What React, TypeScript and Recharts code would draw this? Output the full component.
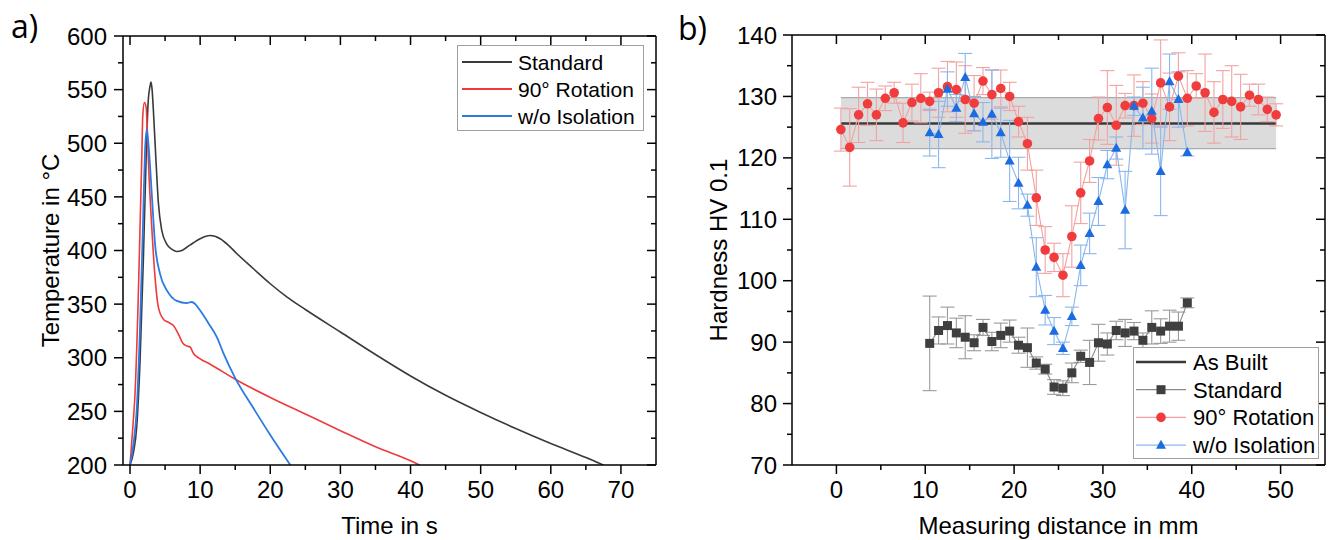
import React from 'react';
import { ComposedChart, Line, XAxis, YAxis, ErrorBar, ReferenceArea, ReferenceLine, Legend } from 'recharts';

const FONT = "Arial, 'Liberation Sans', Helvetica, sans-serif";

// ---------- Panel a: temperature curves ----------
const stdTime = [0, 0.5, 0.95, 1.43, 1.9, 2.29, 2.6, 2.85, 3.0, 3.15, 3.33, 3.7, 4.05, 4.52, 5.24, 6.0, 6.67, 7.4, 8.1, 9.0, 10, 11.43, 12.86, 14, 15.24, 17.6, 20, 22.4, 25, 30, 35, 40, 45, 50, 55, 60, 65, 67.5];
const stdTemp = [200, 212, 235, 297, 391, 484, 540, 553, 557, 550, 531, 484, 444, 419, 406, 401, 399, 400, 403, 407, 411, 414, 411, 405, 397, 383, 369, 356.5, 345, 324, 303, 283, 265, 249, 234, 220, 207, 200];

const rotTime = [0, 0.4, 0.71, 1.19, 1.5, 1.67, 1.81, 2.05, 2.29, 2.45, 2.62, 3.1, 3.57, 4.05, 4.76, 5.5, 6.19, 6.9, 7.6, 8.1, 8.57, 9.05, 10, 11.43, 15, 20, 25, 30, 35, 40, 41.3];
const rotTemp = [200, 235, 266, 360, 440, 484, 524, 538, 534, 515, 484, 422, 375, 347, 336, 333, 330, 322, 313, 311, 310, 304, 299, 294, 280, 263, 247.5, 232, 217, 204, 200];

const isoTime = [0, 0.5, 0.95, 1.43, 1.9, 2.14, 2.38, 2.67, 3.1, 3.57, 4.29, 5.24, 6.67, 8.1, 8.8, 9.3, 10, 11.2, 12.4, 13.33, 15, 17.5, 20, 22.86];
const isoTemp = [200, 220, 251, 329, 437, 493, 513, 496, 453, 406, 378, 363, 353, 351, 352, 350, 344, 332, 319, 304, 281, 254, 228, 200];

const aXTicks = [0, 5, 10, 15, 20, 25, 30, 35, 40, 45, 50, 55, 60, 65, 70];
const aYTicks = [200, 225, 250, 275, 300, 325, 350, 375, 400, 425, 450, 475, 500, 525, 550, 575, 600];
const aNames = ['Standard', '90° Rotation', 'w/o Isolation'];
const aColors = ['#3a3a3a', '#f03a3a', '#2b7be3'];

// ---------- Panel b: hardness profiles ----------
const rotDist = [0.5, 1.5, 2.5, 3.5, 4.5, 5.5, 6.5, 7.5, 8.5, 9.5, 10.5, 11.5, 12.5, 13.5, 14.5, 15.5, 16.5, 17.5, 18.5, 19.5, 20.5, 21.5, 22.5, 23.5, 24.5, 25.5, 26.5, 27.5, 28.5, 29.5, 30.5, 31.5, 32.5, 33.5, 34.5, 35.5, 36.5, 37.5, 38.5, 39.5, 40.5, 41.5, 42.5, 43.5, 44.5, 45.5, 46.5, 47.5, 48.5, 49.5];
const rotHV = [124.6, 121.7, 127.0, 128.8, 127.0, 129.7, 130.6, 125.7, 129.0, 129.7, 129.2, 130.6, 131.6, 131.1, 129.5, 128.9, 132.5, 130.3, 131.3, 130.0, 125.9, 122.3, 113.5, 105.0, 103.8, 100.9, 107.2, 114.3, 119.5, 126.4, 128.2, 125.3, 128.5, 128.5, 128.9, 126.4, 132.2, 128.3, 133.3, 129.7, 131.7, 130.6, 127.4, 129.5, 129.2, 128.3, 130.2, 129.5, 127.9, 127.0];
const rotErr = [3.5, 6.3, 4.5, 3.5, 4.2, 2.0, 1.7, 3.2, 3.0, 4.0, 1.5, 4.0, 4.1, 4.5, 5.5, 4.5, 2.2, 4.0, 3.0, 2.3, 2.5, 4.3, 4.5, 3.8, 2.3, 3.5, 5.0, 5.0, 3.5, 3.5, 6.0, 6.5, 2.0, 5.0, 3.5, 4.0, 7.0, 5.5, 3.8, 4.5, 2.0, 6.3, 5.0, 4.7, 5.8, 5.3, 1.8, 2.5, 2.0, 1.8];

const midDist = [10.5, 11.5, 12.5, 13.5, 14.5, 15.5, 16.5, 17.5, 18.5, 19.5, 20.5, 21.5, 22.5, 23.5, 24.5, 25.5, 26.5, 27.5, 28.5, 29.5, 30.5, 31.5, 32.5, 33.5, 34.5, 35.5, 36.5, 37.5, 38.5, 39.5];
const isoHV = [124.1, 123.8, 131.2, 128.1, 133.1, 127.2, 125.8, 127.1, 124.1, 119.5, 115.9, 112.3, 102.2, 95.2, 91.8, 89.0, 94.2, 102.5, 107.7, 112.9, 118.9, 121.6, 111.5, 128.4, 126.5, 127.6, 117.8, 132.4, 129.5, 120.9];
const isoErr = [3.8, 5.4, 2.8, 2.2, 3.9, 2.8, 3.2, 7.2, 4.0, 6.6, 4.2, 1.8, 4.8, 2.4, 2.2, 1.0, 1.5, 3.3, 3.3, 3.9, 2.3, 1.8, 6.3, 1.5, 5.0, 7.0, 7.2, 4.5, 4.5, 0.6];
const stdHV = [89.8, 91.9, 92.7, 91.5, 90.8, 89.9, 92.4, 90.1, 91.1, 91.8, 89.5, 89.1, 86.6, 85.6, 82.7, 82.5, 85.0, 87.7, 86.7, 89.9, 89.7, 91.9, 91.5, 91.8, 90.3, 92.4, 91.8, 92.6, 92.6, 96.4];
const stdErr = [7.7, 2.2, 3.0, 2.4, 3.5, 1.3, 1.3, 1.5, 2.0, 1.8, 1.3, 3.2, 1.0, 0.8, 1.2, 1.2, 1.6, 1.0, 3.6, 3.0, 1.8, 1.5, 2.2, 1.4, 1.2, 2.7, 2.0, 2.6, 2.3, 0.8];

const asBuiltStart = 0.5;
const asBuiltEnd = 49.5;
const asBuiltMean = 125.6;
const asBuiltLow = 121.5;
const asBuiltHigh = 129.8;

const bXTicks = [0, 5, 10, 15, 20, 25, 30, 35, 40, 45, 50];
const bYTicks = [70, 75, 80, 85, 90, 95, 100, 105, 110, 115, 120, 125, 130, 135, 140];
const bNames = ['As Built', 'Standard', '90° Rotation', 'w/o Isolation'];

const C_STD_M = '#3f3f3f', C_STD_L = '#8a8a8a', C_STD_E = '#9a9a9a';
const C_ROT_M = '#f03c3c', C_ROT_L = '#f4a0a0', C_ROT_E = '#f2a2a2';
const C_ISO_M = '#1c6be0', C_ISO_L = '#8ab6ee', C_ISO_E = '#8cb6ee';

const toXY = (xs: number[], ys: number[], es?: number[]) =>
  xs.map((x, i) => ({ x, y: ys[i], e: es ? es[i] : 0 }));

const stdA = toXY(stdTime, stdTemp);
const rotA = toXY(rotTime, rotTemp);
const isoA = toXY(isoTime, isoTemp);
const rotB = toXY(rotDist, rotHV, rotErr);
const isoB = toXY(midDist, isoHV, isoErr);
const stdB = toXY(midDist, stdHV, stdErr);
const asBuiltB = toXY([asBuiltStart, asBuiltEnd], [asBuiltMean, asBuiltMean]);

// ---------- tick renderer (major/minor, in/out) ----------
const makeTick = (side: string, margin: number, major: number, labels: boolean, out: boolean, fs: number) => (props: any) => {
  const { x, y, payload } = props;
  const v = payload.value;
  const isMajor = Math.abs(v / major - Math.round(v / major)) < 1e-6;
  const len = isMajor ? 9 : 5;
  const d = out ? 1 : -1;
  let line: any = null;
  let label: any = null;
  if (side === 'left') {
    const ax = x + margin;
    line = <line x1={ax} y1={y} x2={ax - d * len} y2={y} />;
    if (labels && isMajor) label = <text x={x} y={y} dy="0.36em" textAnchor="end">{v}</text>;
  } else if (side === 'right') {
    const ax = x - margin;
    line = <line x1={ax} y1={y} x2={ax + d * len} y2={y} />;
  } else if (side === 'bottom') {
    const ay = y - margin;
    line = <line x1={x} y1={ay} x2={x} y2={ay + d * len} />;
    if (labels && isMajor) label = <text x={x} y={y} dy="0.72em" textAnchor="middle">{v}</text>;
  } else {
    const ay = y + margin;
    line = <line x1={x} y1={ay} x2={x} y2={ay - d * len} />;
  }
  return (
    <g>
      <g stroke="#000" strokeWidth={1.5}>{line}</g>
      {label && <g fill="#000" stroke="none" fontSize={fs} fontFamily={FONT}>{label}</g>}
    </g>
  );
};

const axisLine = { stroke: '#000', strokeWidth: 1.5 };

// ---------- markers ----------
const Circle = (p: any) => (p.cx == null ? <g /> : <circle cx={p.cx} cy={p.cy} r={4.8} fill={C_ROT_M} />);
const Tri = (p: any) =>
  p.cx == null ? <g /> : (
    <polygon points={`${p.cx},${p.cy - 5.4} ${p.cx - 5},${p.cy + 3.6} ${p.cx + 5},${p.cy + 3.6}`} fill={C_ISO_M} />
  );
const Sq = (p: any) => (p.cx == null ? <g /> : <rect x={p.cx - 4.5} y={p.cy - 4.5} width={9} height={9} fill={C_STD_M} />);

// ---------- legends ----------
const LegendA = () => (
  <svg width={188} height={87} style={{ display: 'block' }}>
    <rect x={0.5} y={0.5} width={186} height={85} fill="#fff" stroke="#a0a0a0" strokeWidth={1} />
    {aNames.map((n, i) => (
      <g key={n}>
        <line x1={5} x2={55} y1={17 + 27 * i} y2={17 + 27 * i} stroke={aColors[i]} strokeWidth={1.8} />
        <text x={61} y={17 + 27 * i} dy="0.36em" fontSize={21} fontFamily={FONT} fill="#000">{n}</text>
      </g>
    ))}
  </svg>
);

const LegendB = () => {
  const rows = [
    { line: '#3a3a3a', lw: 2.5, m: null },
    { line: C_STD_L, lw: 1.2, m: 'sq' },
    { line: C_ROT_L, lw: 1.2, m: 'ci' },
    { line: C_ISO_L, lw: 1.2, m: 'tr' },
  ];
  return (
    <svg width={187} height={113} style={{ display: 'block' }}>
      <rect x={0.5} y={0.5} width={185} height={111} fill="#fff" stroke="#a0a0a0" strokeWidth={1} />
      {bNames.map((n, i) => {
        const yy = 15 + 27.7 * i;
        const r = rows[i];
        return (
          <g key={n}>
            <line x1={3} x2={53} y1={yy} y2={yy} stroke={r.line} strokeWidth={r.lw} />
            {r.m === 'sq' && <Sq cx={28} cy={yy} />}
            {r.m === 'ci' && <Circle cx={28} cy={yy} />}
            {r.m === 'tr' && <Tri cx={28} cy={yy} />}
            <text x={60} y={yy} dy="0.36em" fontSize={22} fontFamily={FONT} fill="#000">{n}</text>
          </g>
        );
      })}
    </svg>
  );
};

const ChartA = () => (
  <ComposedChart width={660} height={540} margin={{ top: 35, right: 0, bottom: 0, left: 0 }}>
    <XAxis xAxisId="b" dataKey="x" type="number" domain={[-1, 75]} ticks={aXTicks} interval={0} allowDataOverflow
      height={75} axisLine={axisLine} tickLine={false} tickSize={0} tickMargin={16}
      tick={makeTick('bottom', 16, 10, true, true, 24)}
      label={{ value: 'Time in s', position: 'insideBottom', offset: 6, style: { fontSize: 24, fill: '#000', fontFamily: FONT } }} />
    <XAxis xAxisId="t" dataKey="x" type="number" orientation="top" domain={[-1, 75]} ticks={aXTicks} interval={0} allowDataOverflow
      height={1} axisLine={axisLine} tickLine={false} tickSize={0} tickMargin={4}
      tick={makeTick('top', 4, 10, false, false, 24)} />
    <YAxis yAxisId="l" type="number" domain={[200, 600]} ticks={aYTicks} interval={0} allowDataOverflow
      width={123} axisLine={axisLine} tickLine={false} tickSize={0} tickMargin={16}
      tick={makeTick('left', 16, 50, true, true, 24)}
      label={{ value: 'Temperature in °C', angle: -90, position: 'insideLeft', offset: 50, style: { fontSize: 24, fill: '#000', fontFamily: FONT, textAnchor: 'middle' } }} />
    <YAxis yAxisId="r" type="number" orientation="right" domain={[200, 600]} ticks={aYTicks} interval={0} allowDataOverflow
      width={4} axisLine={axisLine} tickLine={false} tickSize={0} tickMargin={4}
      tick={makeTick('right', 4, 50, false, false, 24)} />
    <Line data={stdA} dataKey="y" xAxisId="b" yAxisId="l" type="monotone" stroke={aColors[0]} strokeWidth={1.6} dot={false} isAnimationActive={false} name={aNames[0]} />
    <Line data={rotA} dataKey="y" xAxisId="b" yAxisId="l" type="monotone" stroke={aColors[1]} strokeWidth={1.6} dot={false} isAnimationActive={false} name={aNames[1]} />
    <Line data={isoA} dataKey="y" xAxisId="b" yAxisId="l" type="monotone" stroke={aColors[2]} strokeWidth={1.8} dot={false} isAnimationActive={false} name={aNames[2]} />
    <Legend layout="vertical" align="center" verticalAlign="middle" content={<LegendA />}
      wrapperStyle={{ left: 457, top: 45, width: 188, height: 87 }} />
  </ComposedChart>
);

const ChartB = () => (
  <ComposedChart width={668} height={540} margin={{ top: 34, right: 0, bottom: 0, left: 0 }}>
    <XAxis xAxisId="b" dataKey="x" type="number" domain={[-5, 55]} ticks={bXTicks} interval={0} allowDataOverflow
      height={75} axisLine={axisLine} tickLine={false} tickSize={0} tickMargin={16}
      tick={makeTick('bottom', 16, 10, true, true, 24)}
      label={{ value: 'Measuring distance in mm', position: 'insideBottom', offset: 6, style: { fontSize: 24, fill: '#000', fontFamily: FONT } }} />
    <XAxis xAxisId="t" dataKey="x" type="number" orientation="top" domain={[-5, 55]} ticks={bXTicks} interval={0} allowDataOverflow
      height={1} axisLine={axisLine} tickLine={false} tickSize={0} tickMargin={4}
      tick={makeTick('top', 4, 10, false, false, 24)} />
    <YAxis yAxisId="l" type="number" domain={[70, 140]} ticks={bYTicks} interval={0} allowDataOverflow
      width={132} axisLine={axisLine} tickLine={false} tickSize={0} tickMargin={15}
      tick={makeTick('left', 15, 10, true, true, 24)}
      label={{ value: 'Hardness HV 0.1', angle: -90, position: 'insideLeft', offset: 58, style: { fontSize: 24, fill: '#000', fontFamily: FONT, textAnchor: 'middle' } }} />
    <YAxis yAxisId="r" type="number" orientation="right" domain={[70, 140]} ticks={bYTicks} interval={0} allowDataOverflow
      width={3} axisLine={axisLine} tickLine={false} tickSize={0} tickMargin={4}
      tick={makeTick('right', 4, 10, false, false, 24)} />
    <ReferenceArea xAxisId="b" yAxisId="l" x1={asBuiltStart} x2={asBuiltEnd} y1={asBuiltLow} y2={asBuiltHigh}
      fill="#dcdcdc" fillOpacity={1} stroke="none" />
    <ReferenceLine xAxisId="b" yAxisId="l" segment={[{ x: asBuiltStart, y: asBuiltHigh }, { x: asBuiltEnd, y: asBuiltHigh }]} stroke="#ababab" strokeWidth={1.2} />
    <ReferenceLine xAxisId="b" yAxisId="l" segment={[{ x: asBuiltStart, y: asBuiltLow }, { x: asBuiltEnd, y: asBuiltLow }]} stroke="#ababab" strokeWidth={1.2} />
    <Line data={asBuiltB} dataKey="y" xAxisId="b" yAxisId="l" type="linear" stroke="#3a3a3a" strokeWidth={2.5} dot={false} isAnimationActive={false} name={bNames[0]} />
    <Line data={stdB} dataKey="y" xAxisId="b" yAxisId="l" type="linear" stroke={C_STD_L} strokeWidth={1.1} dot={<Sq />} isAnimationActive={false} name={bNames[1]}>
      <ErrorBar dataKey="e" direction="y" width={7} stroke={C_STD_E} strokeWidth={1.1} />
    </Line>
    <Line data={rotB} dataKey="y" xAxisId="b" yAxisId="l" type="linear" stroke={C_ROT_L} strokeWidth={1.1} dot={<Circle />} isAnimationActive={false} name={bNames[2]}>
      <ErrorBar dataKey="e" direction="y" width={7} stroke={C_ROT_E} strokeWidth={1.1} />
    </Line>
    <Line data={isoB} dataKey="y" xAxisId="b" yAxisId="l" type="linear" stroke={C_ISO_L} strokeWidth={1.1} dot={<Tri />} isAnimationActive={false} name={bNames[3]}>
      <ErrorBar dataKey="e" direction="y" width={7} stroke={C_ISO_E} strokeWidth={1.1} />
    </Line>
    <Legend layout="vertical" align="center" verticalAlign="middle" content={<LegendB />}
      wrapperStyle={{ left: 473, top: 347, width: 187, height: 113 }} />
  </ComposedChart>
);

export default function App() {
  return (
    <div style={{ position: 'fixed', left: 0, top: 0, width: 1328, height: 540, background: '#fff', fontFamily: FONT, overflow: 'hidden' }}>
      <div style={{ position: 'absolute', left: 0, top: 0 }}><ChartA /></div>
      <div style={{ position: 'absolute', left: 660, top: 0 }}><ChartB /></div>
      <svg width={1328} height={60} style={{ position: 'absolute', left: 0, top: 0, pointerEvents: 'none' }}>
        <text x={11} y={38} fontSize={32} fontFamily="'Open Sans', 'Noto Sans', sans-serif" fill="#000">a)</text>
        <text x={678} y={40} fontSize={32} fontFamily="'Open Sans', 'Noto Sans', sans-serif" fill="#000">b)</text>
      </svg>
    </div>
  );
}
